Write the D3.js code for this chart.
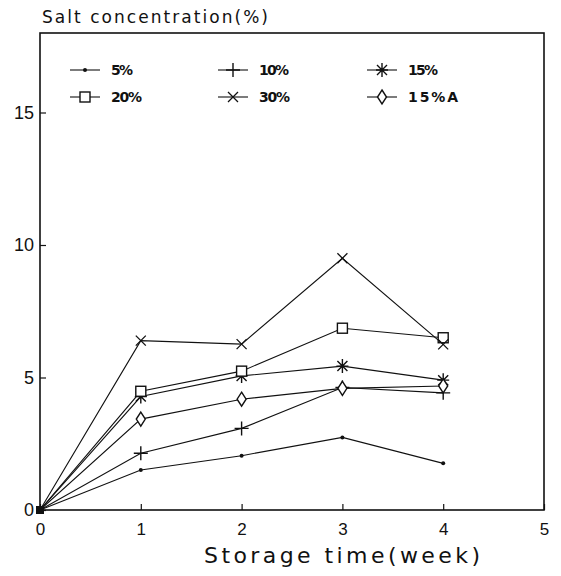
<!DOCTYPE html>
<html><head><meta charset="utf-8">
<script src="https://cdn.jsdelivr.net/npm/d3@7"></script>
<style>body{margin:0;background:#fff}svg{display:block}text{font-family:"Liberation Sans",Arial,sans-serif;fill:#111}</style>
</head><body>
<svg id="c" width="561" height="576"></svg>
<script>
const weeks = [0, 1, 2, 3, 4];
const seriesNames = ["5%", "10%", "15%", "20%", "30%", "15%A"];
const s5   = [0, 1.51, 2.05, 2.74, 1.76];
const s10  = [0, 2.14, 3.08, 4.62, 4.42];
const s15  = [0, 4.28, 5.06, 5.43, 4.90];
const s20  = [0, 4.48, 5.24, 6.86, 6.50];
const s30  = [0, 6.39, 6.26, 9.50, 6.25];
const s15A = [0, 3.43, 4.18, 4.59, 4.68];
const xTicks = [0, 1, 2, 3, 4, 5];
const yTicks = [0, 5, 10, 15];
const series = [s5, s10, s15, s20, s30, s15A];
const markers = ["dot", "plus", "star", "square", "cross", "diamond"];

const svg = d3.select("#c");
const L = 40, R = 544, T = 33, B = 510;
const x = d3.scaleLinear().domain([0, 5]).range([L, R]);
const y = d3.scaleLinear().domain([0, 18]).range([B, T]);

// frame
svg.append("rect").attr("x", L).attr("y", T).attr("width", R - L).attr("height", B - T)
  .attr("fill", "none").attr("stroke", "#111").attr("stroke-width", 1.6);

// axes with inward ticks
const gx = svg.append("g").attr("transform", `translate(0,${B})`)
  .call(d3.axisBottom(x).tickValues(xTicks).tickSize(-6).tickPadding(13).tickFormat(d3.format("d")));
gx.select(".domain").remove();
gx.selectAll("text").attr("font-size", 17).style("font-family", "Liberation Sans, Arial");
gx.selectAll("line").attr("stroke", "#111").attr("stroke-width", 1.2);
const gy = svg.append("g").attr("transform", `translate(${L},0)`)
  .call(d3.axisLeft(y).tickValues(yTicks).tickSize(-6).tickPadding(6).tickFormat(d3.format("d")));
gy.select(".domain").remove();
gy.selectAll("text").attr("font-size", 18).style("font-family", "Liberation Sans, Arial");
gy.selectAll("line").attr("stroke", "#111").attr("stroke-width", 1.2);

// titles
svg.append("text").attr("x", 42).attr("y", 23).attr("font-size", 17).style("font-family", "DejaVu Sans")
  .attr("textLength", 226).attr("lengthAdjust", "spacing").text("Salt concentration(%)");
svg.append("text").attr("x", 204).attr("y", 563).attr("font-size", 22).style("font-family", "DejaVu Sans")
  .attr("textLength", 276).attr("lengthAdjust", "spacing").text("Storage time(week)");

function drawMarker(g, type, cx, cy) {
  const s = "#111";
  if (type === "dot") g.append("circle").attr("cx", cx).attr("cy", cy).attr("r", 2).attr("fill", s);
  else if (type === "plus") g.append("path").attr("d", `M${cx-7},${cy}H${cx+7}M${cx},${cy-7}V${cy+7}`).attr("stroke", s).attr("stroke-width", 1.4).attr("fill", "none");
  else if (type === "cross") g.append("path").attr("d", `M${cx-5},${cy-5}L${cx+5},${cy+5}M${cx-5},${cy+5}L${cx+5},${cy-5}`).attr("stroke", s).attr("stroke-width", 1.3).attr("fill", "none");
  else if (type === "star") g.append("path").attr("d", `M${cx-6},${cy}H${cx+6}M${cx},${cy-7}V${cy+7}M${cx-5},${cy-5}L${cx+5},${cy+5}M${cx-5},${cy+5}L${cx+5},${cy-5}`).attr("stroke", s).attr("stroke-width", 1.4).attr("fill", "none");
  else if (type === "square") g.append("rect").attr("x", cx-5).attr("y", cy-5).attr("width", 10).attr("height", 10).attr("fill", "#fff").attr("stroke", s).attr("stroke-width", 1.4);
  else if (type === "diamond") g.append("path").attr("d", `M${cx},${cy-7}L${cx+4.5},${cy}L${cx},${cy+7}L${cx-4.5},${cy}Z`).attr("fill", "#fff").attr("stroke", s).attr("stroke-width", 1.4);
}

const line = d3.line().x((d, i) => x(weeks[i])).y(d => y(d));
series.forEach((vals, k) => {
  const g = svg.append("g");
  g.append("path").datum(vals).attr("d", line).attr("fill", "none").attr("stroke", "#111").attr("stroke-width", 1.1);
  vals.forEach((v, i) => { if (i > 0) drawMarker(g, markers[k], x(weeks[i]), y(v)); });
});
// origin filled marker
svg.append("rect").attr("x", x(0) - 4).attr("y", y(0) - 4).attr("width", 8).attr("height", 8).attr("fill", "#111");

// legend
const legCols = [70, 218, 367];
const legRows = [70, 97];
const legW = [22, 30, 30, 31, 31, 50];
seriesNames.forEach((name, k) => {
  const cx = legCols[k % 3], cy = legRows[Math.floor(k / 3)];
  const g = svg.append("g");
  g.append("line").attr("x1", cx).attr("x2", cx + 30).attr("y1", cy).attr("y2", cy).attr("stroke", "#111").attr("stroke-width", 1.1);
  drawMarker(g, markers[k], cx + 15, cy);
  g.append("text").attr("x", cx + 41).attr("y", cy + 5).attr("font-size", 14).attr("font-weight", "bold").style("font-family", "DejaVu Sans")
    .attr("textLength", legW[k]).attr("lengthAdjust", "spacing").text(name);
});
</script>
</body></html>
